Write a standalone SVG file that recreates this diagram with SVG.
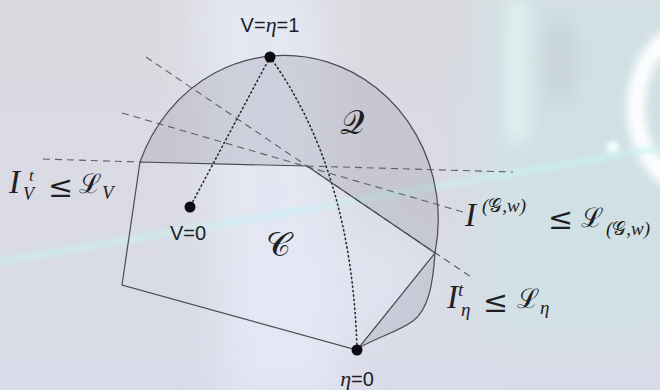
<svg xmlns="http://www.w3.org/2000/svg" width="660" height="390" viewBox="0 0 660 390">
<defs>
<filter id="b20" x="-50%" y="-50%" width="200%" height="200%"><feGaussianBlur stdDeviation="20"/></filter>
<filter id="b8" x="-50%" y="-50%" width="200%" height="200%"><feGaussianBlur stdDeviation="8"/></filter>
<filter id="b4" x="-50%" y="-50%" width="200%" height="200%"><feGaussianBlur stdDeviation="4"/></filter>
<filter id="b3" x="-50%" y="-50%" width="200%" height="200%"><feGaussianBlur stdDeviation="2.5"/></filter>
<linearGradient id="bg" x1="0" y1="0" x2="0" y2="1">
<stop offset="0" stop-color="#dadae0"/><stop offset="1" stop-color="#d9dbe8"/>
</linearGradient>
</defs>
<style>
.edge{fill:none;stroke:#4a4a52;stroke-width:1.2}
.dash{fill:none;stroke:#5c5e68;stroke-width:1.1;stroke-dasharray:7 5}
.dot{fill:none;stroke:#2a2a30;stroke-width:1.6;stroke-dasharray:1.2 3.2;stroke-linecap:round}
.shade{fill:#8e909e;fill-opacity:0.26;stroke:none}
.pt{fill:#0c0c10}
.lab{font-family:"Liberation Sans",Arial,sans-serif;font-size:20px;fill:#1e1e24}
.m{font-family:"Liberation Serif","DejaVu Serif",serif;font-style:italic;fill:#1e1e24}
.cal{font-family:"DejaVu Serif","Liberation Serif",serif;fill:#1e1e24}
.rel{font-family:"DejaVu Serif","Liberation Serif",serif;fill:#1e1e24}
</style>
<g id="background">
<rect width="660" height="390" fill="url(#bg)"/>
<polygon points="195,-20 320,-20 345,400 225,400" fill="#e8ebf8" opacity="0.75" filter="url(#b20)"/>
<rect x="480" y="-20" width="200" height="360" fill="#d0e2e5" opacity="0.85" filter="url(#b20)"/>
<rect x="505" y="0" width="25" height="140" fill="#e2f2f2" opacity="0.8" filter="url(#b8)"/>
<ellipse cx="560" cy="60" rx="18" ry="45" fill="#c3cdd2" opacity="0.6" filter="url(#b8)"/>
<ellipse cx="702" cy="108" rx="66" ry="82" fill="none" stroke="#fbfefe" stroke-width="18" filter="url(#b4)"/>
<line x1="0" y1="262" x2="660" y2="148" stroke="#c9f1f1" stroke-width="5" opacity="0.9" filter="url(#b3)"/>
<circle cx="613" cy="147" r="6" fill="#f6ffff" filter="url(#b3)"/>
<ellipse cx="350" cy="280" rx="80" ry="60" fill="#e4e8f4" opacity="0.6" filter="url(#b20)"/>
</g>
<g id="region-Q">
<path class="shade" d="M140,162 A154,164 0 0 1 435,253 L307,166 Z"/>
<path class="shade" d="M435,253 C433,285 428,310 413,321 C398,332 375,338 359,348 Z"/>
</g>
<g id="connectors">
<line class="dash" x1="43" y1="159" x2="140" y2="162"/>
<line class="dash" x1="307" y1="166" x2="513" y2="172"/>
<line class="dash" x1="146" y1="57" x2="471" y2="277"/>
<line class="dash" x1="122" y1="113" x2="463" y2="212"/>
<line class="dot" x1="270" y1="57" x2="190" y2="207"/>
<path class="dot" d="M270,57 Q352,170 357,350"/>
</g>
<g id="region-C">
<polygon class="edge" points="140,162 307,166 435,253 357,350 122,285"/>
</g>
<g id="boundary">
<path class="edge" d="M140,162 A154,164 0 0 1 435,253 C433,285 428,310 413,321 C398,332 375,338 359,348"/>
</g>
<g id="node-top">
<circle class="pt" cx="270" cy="57" r="5.5"/>
<text class="lab" x="270" y="32" text-anchor="middle" font-size="21">V=<tspan class="m" font-size="22">η</tspan>=1</text>
</g>
<g id="node-v0">
<circle class="pt" cx="190" cy="207" r="5.5"/>
<text class="lab" x="188" y="240" text-anchor="middle">V=0</text>
</g>
<g id="node-eta0">
<circle class="pt" cx="357" cy="350" r="5.5"/>
<text class="lab" x="357" y="386" text-anchor="middle"><tspan class="m" font-size="22">η</tspan>=0</text>
</g>
<g id="label-Q"><text class="cal" x="340" y="134" font-size="34">𝒬</text></g>
<g id="label-C"><text class="cal" x="266" y="256" font-size="34">𝒞</text></g>
<g id="label-IV">
<text class="m" x="9" y="193" font-size="33">I</text>
<text class="m" x="29" y="181" font-size="17">t</text>
<text class="m" x="23" y="200" font-size="18">V</text>
<text class="rel" x="48" y="197" font-size="30">≤</text>
<text class="cal" x="79" y="193" font-size="27">ℒ</text>
<text class="m" x="102" y="199" font-size="19">V</text>
</g>
<g id="label-IGw">
<text class="m" x="465" y="226" font-size="33">I</text>
<text class="m" x="482" y="212" font-size="19">(<tspan class="cal" font-style="normal">𝒢</tspan>,w)</text>
<text class="rel" x="548" y="229" font-size="30">≤</text>
<text class="cal" x="581" y="227" font-size="27">ℒ</text>
<text class="m" x="606" y="235" font-size="19">(<tspan class="cal" font-style="normal">𝒢</tspan>,w)</text>
</g>
<g id="label-Ieta">
<text class="m" x="447" y="308" font-size="33">I</text>
<text class="m" x="458" y="296" font-size="19">t</text>
<text class="m" x="461" y="316" font-size="19">η</text>
<text class="rel" x="483" y="312" font-size="30">≤</text>
<text class="cal" x="517" y="308" font-size="27">ℒ</text>
<text class="m" x="540" y="314" font-size="19">η</text>
</g>
</svg>
